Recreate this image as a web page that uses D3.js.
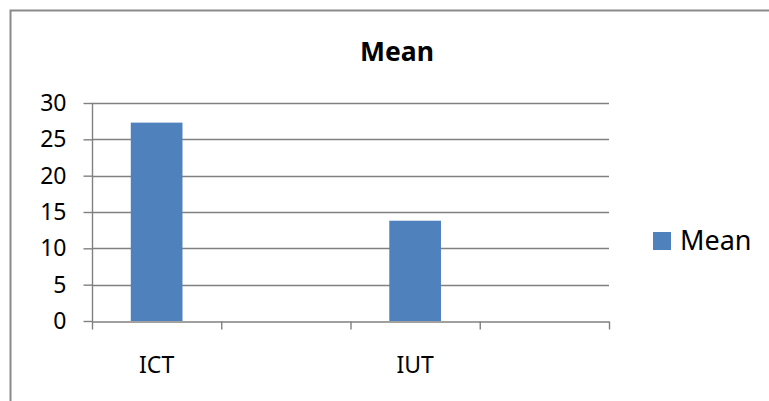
<!DOCTYPE html>
<html>
<head>
<meta charset="utf-8">
<script src="https://cdn.jsdelivr.net/npm/d3@7"></script>
<style>
  body { margin: 0; background: #fff; }
  text { font-family: "Noto Sans", "Open Sans", sans-serif; fill: #000; }
</style>
</head>
<body>
<div id="chart"></div>
<script>
// data
var categories = ["ICT", "blank1", "IUT", "blank2"];
var tickLabels = ["ICT", "", "IUT", ""];
var meanValues = [27.3, null, 13.8, null];
var yTicks = [0, 5, 10, 15, 20, 25, 30];
var seriesName = "Mean";
var chartTitle = "Mean";

var W = 769, H = 401;
var plot = {left: 92, right: 609, top: 103, bottom: 321};

var svg = d3.select("#chart")
      .append("svg")
      .attr("width", W)
      .attr("height", H);

// outer frame (right and bottom edges fall outside the picture)
svg.append("rect")
      .attr("x", 10.5)
      .attr("y", 10.5)
      .attr("width", W + 20)
      .attr("height", H + 20)
      .attr("fill", "none")
      .attr("stroke", "#8a8a8a")
      .attr("stroke-width", 2);

// title
svg.append("text")
      .attr("x", 397)
      .attr("y", 61)
      .attr("text-anchor", "middle")
      .style("font-size", "26.5px")
      .style("font-weight", "bold")
      .text(chartTitle);

var x = d3.scaleBand()
      .domain(categories)
      .range([plot.left, plot.right])
      .paddingInner(0.6)
      .paddingOuter(0.3);

// slot boundaries for the x tick marks
var xSlots = d3.scaleLinear()
      .domain([0, categories.length])
      .range([plot.left, plot.right]);

var y = d3.scaleLinear()
      .domain([0, 30])
      .range([plot.bottom, plot.top]);

// gridlines
svg.append("g")
      .selectAll("line")
      .data(yTicks.filter(function (d) { return d > 0; }))
      .enter()
      .append("line")
      .attr("x1", plot.left)
      .attr("x2", plot.right)
      .attr("y1", function (d) { return Math.round(y(d)) + 0.5; })
      .attr("y2", function (d) { return Math.round(y(d)) + 0.5; })
      .attr("stroke", "#808080")
      .attr("stroke-width", 1.4);

// bars
svg.append("g")
      .selectAll("rect")
      .data(categories.map(function (c, i) { return {cat: c, value: meanValues[i]}; })
            .filter(function (d) { return d.value != null; }))
      .enter()
      .append("rect")
      .attr("x", function (d) { return x(d.cat); })
      .attr("width", x.bandwidth())
      .attr("y", function (d) { return y(d.value); })
      .attr("height", function (d) { return y(0) - y(d.value); })
      .attr("fill", "#4f81bd");

// y axis
var yAxis = svg.append("g")
      .attr("transform", "translate(" + (plot.left + 0.5) + ",0)")
      .call(d3.axisLeft(y).tickValues(yTicks).tickSize(9).tickPadding(17));
yAxis.selectAll("line, path").attr("stroke", "#808080").attr("stroke-width", 1.4);
yAxis.select(".domain").attr("d", "M0," + plot.top + "V" + (plot.bottom + 0.5));
yAxis.selectAll("text")
      .style("font-size", "23px")
      .style("font-family", "'Noto Sans', sans-serif")
      .attr("fill", "#000");

// x axis
var xAxis = svg.append("g")
      .attr("transform", "translate(0," + (plot.bottom + 0.5) + ")")
      .call(d3.axisBottom(xSlots).tickValues(d3.range(categories.length + 1)).tickFormat("").tickSize(8).tickSizeOuter(0));
xAxis.selectAll("line, path").attr("stroke", "#808080").attr("stroke-width", 1.4);

// category labels
svg.append("g")
      .selectAll("text")
      .data(categories)
      .enter()
      .append("text")
      .attr("x", function (d) { return x(d) + x.bandwidth() / 2; })
      .attr("y", 373)
      .attr("text-anchor", "middle")
      .style("font-size", "23px")
      .text(function (d, i) { return tickLabels[i]; });

// legend
svg.append("rect")
      .attr("x", 653)
      .attr("y", 232)
      .attr("width", 18)
      .attr("height", 18)
      .attr("fill", "#4f81bd");
svg.append("text")
      .attr("x", 680)
      .attr("y", 250)
      .style("font-size", "27px")
      .text(seriesName);
</script>
</body>
</html>
